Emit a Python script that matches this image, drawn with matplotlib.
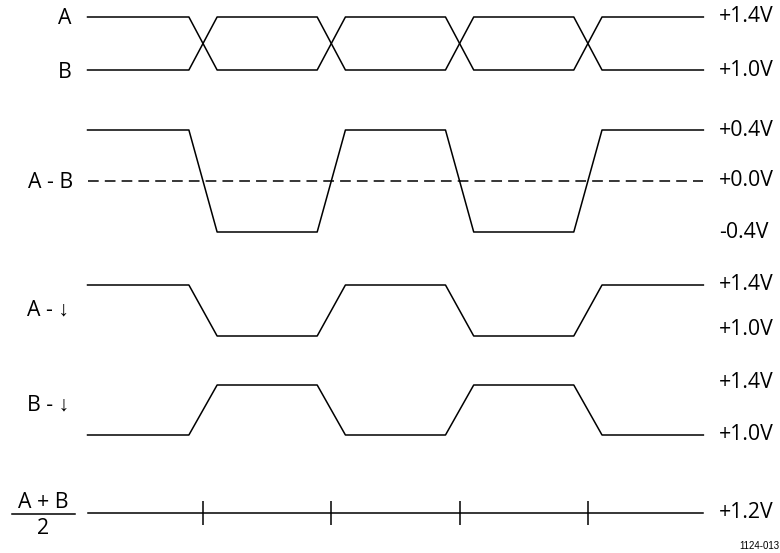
import numpy as np
import matplotlib.pyplot as plt
from matplotlib.lines import Line2D

plt.rcParams['font.family'] = ['Open Sans', 'Liberation Sans', 'DejaVu Sans']

# transition instants (unit intervals) and signal levels between them
edges = [1, 2, 3, 4]
t_start, t_end = 0.1, 4.9
half = 0.11  # half of the transition time

a_levels = [1.4, 1.0, 1.4, 1.0, 1.4]
b_levels = [1.0, 1.4, 1.0, 1.4, 1.0]
diff_levels = [a - b for a, b in zip(a_levels, b_levels)]
common = 1.2

W, H = 780, 553
PX_UNIT = 128.3
T0 = 1 - 203 / PX_UNIT
T1 = T0 + W / PX_UNIT

fig = plt.figure(figsize=(W / 100, H / 100), dpi=100)
base = fig.add_axes([0, 0, 1, 1])
base.set_xlim(0, W)
base.set_ylim(H, 0)
base.set_axis_off()


def panel(v_a, px_a, v_b, px_b):
    ax = fig.add_axes([0, 0, 1, 1])
    ax.set_axis_off()
    ax.patch.set_alpha(0)
    k = (px_b - px_a) / (v_a - v_b)
    ax.set_ylim(v_a - (H - px_a) / k, v_a + px_a / k)
    ax.set_xlim(T0, T1)
    return ax


def wave(levels):
    t = [t_start]
    v = [levels[0]]
    for i, e in enumerate(edges):
        t += [e - half, e + half]
        v += [levels[i], levels[i + 1]]
    t.append(t_end)
    v.append(levels[-1])
    return t, v


LW = 1.1
FS = 15.3
RX = 719 / W


def right_label(ax, y, s):
    ax.text(RX, y, s, transform=ax.get_yaxis_transform(), fontsize=FS,
            va='center', ha='left')


# A and B
ax1 = panel(1.4, 17, 1.0, 70)
ax1.plot(*wave(a_levels), color='black', lw=LW)
ax1.plot(*wave(b_levels), color='black', lw=LW)
right_label(ax1, 1.4, '+1.4V')
right_label(ax1, 1.0, '+1.0V')
base.text(65, 18, 'A', fontsize=FS, ha='center', va='center')
base.text(65, 72, 'B', fontsize=FS, ha='center', va='center')

# A - B
ax2 = panel(0.4, 130, -0.4, 232)
ax2.plot(*wave(diff_levels), color='black', lw=LW)
ax2.plot([t_start, t_end], [0, 0], color='black', lw=LW, ls=(0, (7, 4)))
right_label(ax2, 0.4, '+0.4V')
right_label(ax2, 0.0, '+0.0V')
right_label(ax2, -0.4, '-0.4V')
base.text(51, 183, 'A - B', fontsize=FS, ha='center', va='center')

# A to ground
ax3 = panel(1.4, 285, 1.0, 336)
ax3.plot(*wave(a_levels), color='black', lw=LW)
right_label(ax3, 1.4, '+1.4V')
right_label(ax3, 1.05, '+1.0V')
base.text(48, 310, 'A - \u2193', fontsize=FS, ha='center', va='center')

# B to ground
ax4 = panel(1.4, 385, 1.0, 435)
ax4.plot(*wave(b_levels), color='black', lw=LW)
right_label(ax4, 1.42, '+1.4V')
right_label(ax4, 1.0, '+1.0V')
base.text(48, 405, 'B - \u2193', fontsize=FS, ha='center', va='center')

# common mode
ax5 = panel(1.4, 513 - 0.2 * 128, 1.0, 513 + 0.2 * 128)
ax5.plot([t_start, t_end], [common, common], color='black', lw=LW)
ax5.vlines(edges, common - 0.09, common + 0.09, color='black', lw=LW)
right_label(ax5, common, '+1.2V')
base.text(43, 503, 'A + B', fontsize=FS, ha='center', va='center')
base.text(43, 528, '2', fontsize=FS, ha='center', va='center')
base.add_line(Line2D([12, 75], [514, 514], color='black', lw=LW))

base.text(779, 546, '1124-013', fontsize=7, ha='right', va='center',
          family=['Liberation Sans Narrow', 'Liberation Sans'])

fig.savefig('out.png', dpi=100)
